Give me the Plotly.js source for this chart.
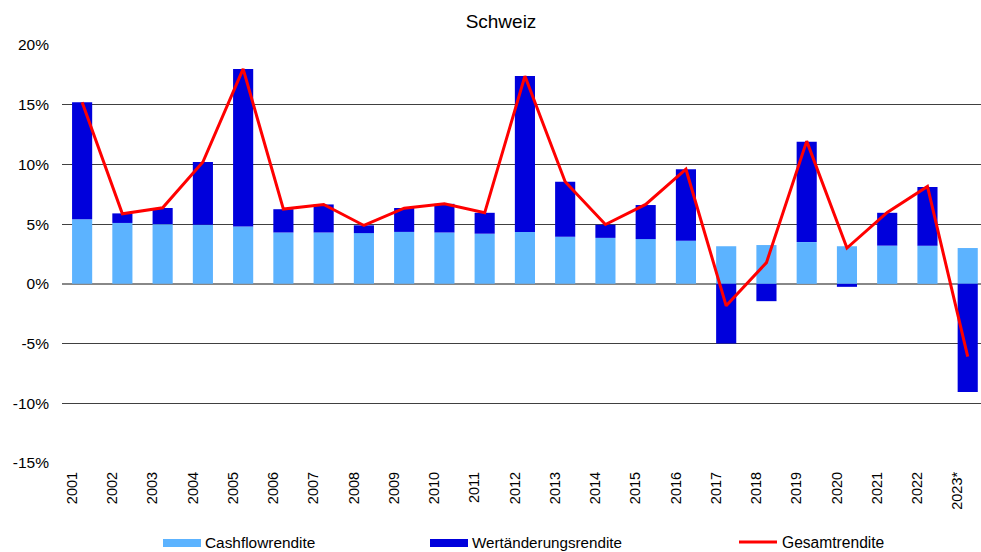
<!DOCTYPE html>
<html>
<head>
<meta charset="utf-8">
<script src="https://cdn.plot.ly/plotly-3.0.1.min.js"></script>
<style>html,body{margin:0;padding:0;background:#fff;}#chart{width:981px;height:552px;}</style>
</head>
<body>
<div id="chart"></div>
<script>
const years = ['2001','2002','2003','2004','2005','2006','2007','2008','2009','2010','2011','2012','2013','2014','2015','2016','2017','2018','2019','2020','2021','2022','2023*'];
const cashflow = [5.4,5.1,5.0,4.95,4.8,4.3,4.3,4.25,4.35,4.3,4.2,4.35,3.95,3.85,3.75,3.6,3.15,3.25,3.5,3.15,3.2,3.2,3.0];
const wertaenderung = [9.8,0.8,1.35,5.25,13.2,1.95,2.35,0.65,2.0,2.4,1.75,13.05,4.6,1.1,2.85,6.0,-5.0,-1.45,8.4,-0.25,2.75,4.9,-9.05];
const gesamt = [15.2,5.87,6.37,10.2,18.0,6.26,6.65,4.89,6.34,6.7,5.95,17.4,8.55,4.97,6.65,9.6,-1.84,1.78,11.95,3.0,5.98,8.15,-6.1];
const yTickVals = [-15,-10,-5,0,5,10,15,20];
const yTickText = ['-15%','-10%','-5%','0%','5%','10%','15%','20%'];
const seriesNames = ['Cashflowrendite','Wertänderungsrendite','Gesamtrendite'];
const colors = ['#5CB3FF','#0000DC','#FF0000'];

const W = 981, H = 552, ML = 62, MR = 0, MT = 45, MB = 89;
const px = x => (x - ML) / (W - ML - MR);
const py = y => (H - MB - y) / (H - MT - MB);

const traces = [
  {type:'bar', x:years, y:cashflow, name:seriesNames[0], marker:{color:colors[0]}, width:0.5, showlegend:false, hoverinfo:'y'},
  {type:'bar', x:years, y:wertaenderung, name:seriesNames[1], marker:{color:colors[1]}, width:0.5, showlegend:false, hoverinfo:'y'},
  {type:'scatter', mode:'lines', x:years, y:gesamt, name:seriesNames[2], line:{color:colors[2], width:3}, showlegend:false}
];

const ff = 'Liberation Sans, Arial, sans-serif';
const mkFont = s => ({family:ff, size:s, color:'#000'});
const legendY = 542;
const shapes = [
  {type:'rect', xref:'paper', yref:'paper', x0:px(163), x1:px(201), y0:py(547), y1:py(539), fillcolor:colors[0], line:{width:0}},
  {type:'rect', xref:'paper', yref:'paper', x0:px(430), x1:px(468), y0:py(547), y1:py(539), fillcolor:colors[1], line:{width:0}},
  {type:'line', xref:'paper', yref:'paper', x0:px(739), x1:px(777), y0:py(542), y1:py(542), line:{color:colors[2], width:3}}
];
const annotations = [
  {xref:'paper', yref:'paper', x:px(203), y:py(legendY), text:seriesNames[0], showarrow:false, xanchor:'left', yanchor:'middle', font:mkFont(15.4)},
  {xref:'paper', yref:'paper', x:px(470), y:py(legendY), text:seriesNames[1], showarrow:false, xanchor:'left', yanchor:'middle', font:mkFont(15.2)},
  {xref:'paper', yref:'paper', x:px(780), y:py(legendY), text:seriesNames[2], showarrow:false, xanchor:'left', yanchor:'middle', font:mkFont(15.6)}
];

const layout = {
  width:W, height:H,
  margin:{l:ML, r:MR, t:MT, b:MB, pad:0},
  paper_bgcolor:'#fff', plot_bgcolor:'#fff',
  font: mkFont(14),
  title:{text:'Schweiz', x:501/W, xref:'container', xanchor:'center', y:1-21/H, yref:'container', yanchor:'middle', font:mkFont(19)},
  barmode:'relative',
  showlegend:false,
  xaxis:{type:'category', range:[-0.5, 22.33], tickangle:-90, showgrid:false, zeroline:false, showline:false, ticks:'', ticklabelstandoff:5, ticklabelshift:-10, tickfont:mkFont(14.5), fixedrange:true},
  yaxis:{range:[-15,20], tickvals:yTickVals, ticktext:yTickText, showgrid:true, gridcolor:'#404040', gridwidth:1, zeroline:true, zerolinecolor:'#888', zerolinewidth:1.5, showline:false, ticks:'', ticklabelstandoff:12, tickfont:mkFont(15.5), fixedrange:true},
  shapes:shapes,
  annotations:annotations
};

Plotly.newPlot('chart', traces, layout, {displayModeBar:false, staticPlot:true});
</script>
</body>
</html>
